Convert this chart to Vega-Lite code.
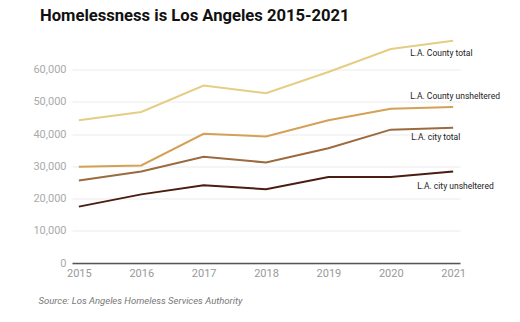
{
  "$schema": "https://vega.github.io/schema/vega-lite/v6.json",
  "width": 388,
  "height": 225.5,
  "autosize": {"type": "none"},
  "padding": {"left": 72, "top": 37.5, "right": 60, "bottom": 59},
  "background": "white",
  "title": {
    "text": "Homelessness is Los Angeles 2015-2021",
    "anchor": "start",
    "frame": "group",
    "dx": -32,
    "offset": 12,
    "font": "Roboto",
    "fontSize": 16.6,
    "fontWeight": "bold",
    "color": "#111111"
  },
  "config": {
    "view": {"stroke": null},
    "font": "Roboto"
  },
  "data": {
    "values": [
      {"year": "2015", "series": "L.A. County total", "value": 44300},
      {"year": "2016", "series": "L.A. County total", "value": 46900},
      {"year": "2017", "series": "L.A. County total", "value": 55100},
      {"year": "2018", "series": "L.A. County total", "value": 52700},
      {"year": "2019", "series": "L.A. County total", "value": 59300},
      {"year": "2020", "series": "L.A. County total", "value": 66400},
      {"year": "2021", "series": "L.A. County total", "value": 69000},
      {"year": "2015", "series": "L.A. County unsheltered", "value": 29900},
      {"year": "2016", "series": "L.A. County unsheltered", "value": 30300},
      {"year": "2017", "series": "L.A. County unsheltered", "value": 40100},
      {"year": "2018", "series": "L.A. County unsheltered", "value": 39300},
      {"year": "2019", "series": "L.A. County unsheltered", "value": 44300},
      {"year": "2020", "series": "L.A. County unsheltered", "value": 47900},
      {"year": "2021", "series": "L.A. County unsheltered", "value": 48400},
      {"year": "2015", "series": "L.A. city total", "value": 25600},
      {"year": "2016", "series": "L.A. city total", "value": 28400},
      {"year": "2017", "series": "L.A. city total", "value": 33000},
      {"year": "2018", "series": "L.A. city total", "value": 31200},
      {"year": "2019", "series": "L.A. city total", "value": 35600},
      {"year": "2020", "series": "L.A. city total", "value": 41400},
      {"year": "2021", "series": "L.A. city total", "value": 42000},
      {"year": "2015", "series": "L.A. city unsheltered", "value": 17500},
      {"year": "2016", "series": "L.A. city unsheltered", "value": 21300},
      {"year": "2017", "series": "L.A. city unsheltered", "value": 24100},
      {"year": "2018", "series": "L.A. city unsheltered", "value": 22900},
      {"year": "2019", "series": "L.A. city unsheltered", "value": 26700},
      {"year": "2020", "series": "L.A. city unsheltered", "value": 26700},
      {"year": "2021", "series": "L.A. city unsheltered", "value": 28400}
    ]
  },
  "encoding": {
    "x": {
      "field": "year",
      "type": "ordinal",
      "scale": {"type": "point", "padding": 0.11},
      "axis": {
        "labelAngle": 0,
        "domainColor": "#555555",
        "domainWidth": 1.5,
        "ticks": false,
        "labelPadding": 4,
        "labelColor": "#999999",
        "labelFontSize": 11,
        "title": "Source: Los Angeles Homeless Services Authority",
        "titleFont": "Roboto",
        "titleFontStyle": "italic",
        "titleFontWeight": "normal",
        "titleFontSize": 9.5,
        "titleColor": "#777777",
        "titleAnchor": "start",
        "titleAlign": "left",
        "titleX": -34,
        "titleY": 32
      }
    },
    "y": {
      "field": "value",
      "type": "quantitative",
      "scale": {"domain": [0, 70000], "nice": false},
      "axis": {
        "values": [0, 10000, 20000, 30000, 40000, 50000, 60000],
        "format": ",d",
        "title": null,
        "domain": false,
        "ticks": false,
        "labelPadding": 6,
        "labelColor": "#aaaaaa",
        "labelFontSize": 11,
        "gridColor": "#ebebeb",
        "gridWidth": 1
      }
    }
  },
  "layer": [
    {
      "mark": {"type": "line", "strokeWidth": 2},
      "encoding": {
        "color": {
          "field": "series",
          "type": "nominal",
          "scale": {
            "domain": ["L.A. County total", "L.A. County unsheltered", "L.A. city total", "L.A. city unsheltered"],
            "range": ["#e6cd84", "#d4a055", "#9b6a3e", "#4b1c10"]
          },
          "legend": null
        }
      }
    },
    {
      "transform": [{"filter": "datum.year == '2021' && datum.series == 'L.A. County total'"}],
      "mark": {"type": "text", "align": "left", "baseline": "middle", "dx": -43, "dy": 12, "fontSize": 8.5, "color": "#222222"},
      "encoding": {"text": {"field": "series"}}
    },
    {
      "transform": [{"filter": "datum.year == '2021' && datum.series == 'L.A. County unsheltered'"}],
      "mark": {"type": "text", "align": "left", "baseline": "middle", "dx": -43, "dy": -11, "fontSize": 8.5, "color": "#222222"},
      "encoding": {"text": {"field": "series"}}
    },
    {
      "transform": [{"filter": "datum.year == '2021' && datum.series == 'L.A. city total'"}],
      "mark": {"type": "text", "align": "left", "baseline": "middle", "dx": -42, "dy": 9, "fontSize": 8.5, "color": "#222222"},
      "encoding": {"text": {"field": "series"}}
    },
    {
      "transform": [{"filter": "datum.year == '2021' && datum.series == 'L.A. city unsheltered'"}],
      "mark": {"type": "text", "align": "left", "baseline": "middle", "dx": -36, "dy": 14, "fontSize": 8.5, "color": "#222222"},
      "encoding": {"text": {"field": "series"}}
    }
  ]
}
